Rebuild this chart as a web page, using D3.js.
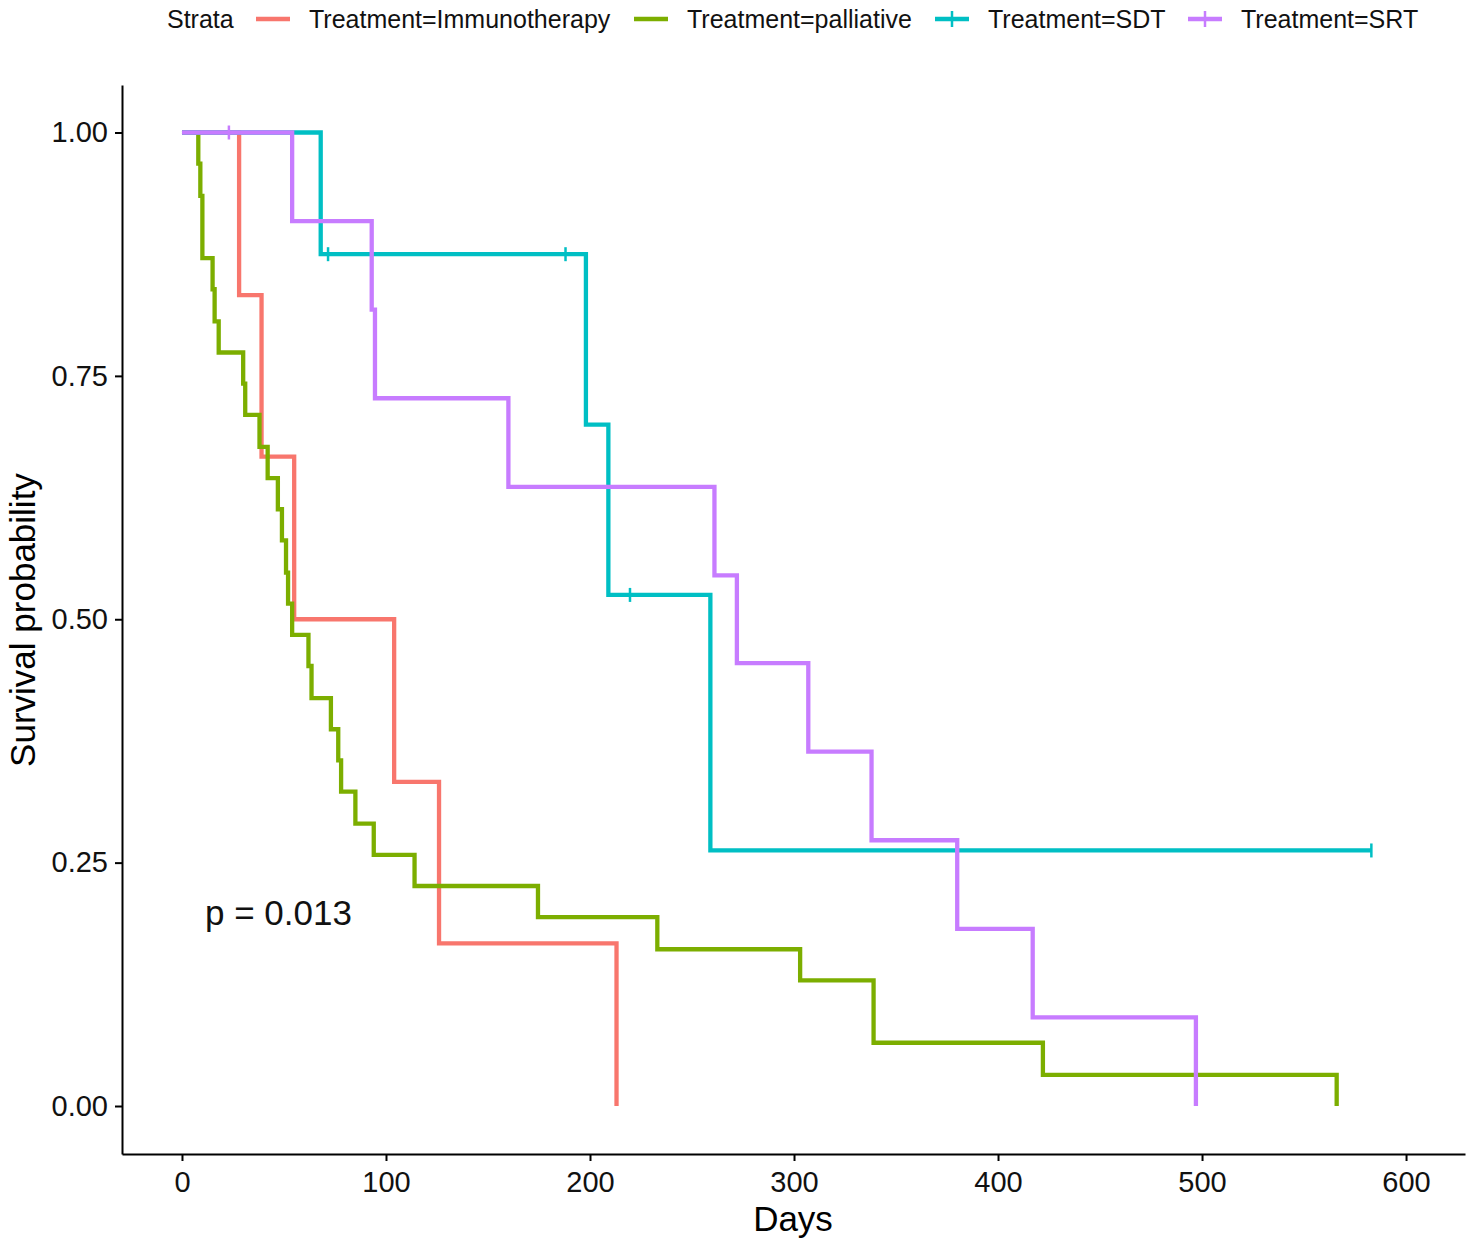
<!DOCTYPE html>
<html>
<head>
<meta charset="utf-8">
<script src="https://cdn.jsdelivr.net/npm/d3@7"></script>
<style>
  body { margin: 0; background: #fff; }
  text { font-family: "Liberation Sans", Arial, sans-serif; }
</style>
</head>
<body>
<svg width="1477" height="1247"></svg>
<script>
// step curves (days, survival)
const immunoTime = [0, 28, 39, 55, 104, 126, 213];
const immunoSurv = [1, 0.833, 0.667, 0.5, 0.333, 0.167, 0];

const palliativeTime = [0, 8, 9, 10, 15, 16, 18, 30, 31, 38, 42, 47, 49, 51, 52, 54, 62, 63.5, 73, 76.6, 78, 85, 94, 114, 174.5, 233, 303, 339, 422, 566];
const palliativeSurv = [1, 0.968, 0.935, 0.871, 0.839, 0.806, 0.774, 0.742, 0.710, 0.677, 0.645, 0.613, 0.581, 0.548, 0.516, 0.484, 0.452, 0.419, 0.387, 0.355, 0.323, 0.290, 0.258, 0.226, 0.194, 0.161, 0.129, 0.065, 0.032, 0];

const sdtTime = [0, 68, 198, 209, 259, 583];
const sdtSurv = [1, 0.875, 0.7, 0.525, 0.2625, 0.2625];
const sdtCensorTime = [71.6, 188, 219.6, 583];
const sdtCensorSurv = [0.875, 0.875, 0.525, 0.2625];

const srtTime = [0, 54, 93, 94.6, 160, 261, 272, 307, 338, 380, 417, 497];
const srtSurv = [1, 0.909, 0.818, 0.727, 0.636, 0.545, 0.455, 0.364, 0.273, 0.182, 0.091, 0];
const srtCensorTime = [23];
const srtCensorSurv = [1];

const strataNames = ["Treatment=Immunotherapy", "Treatment=palliative", "Treatment=SDT", "Treatment=SRT"];
const strataColors = ["#F8766D", "#7CAE00", "#00BFC4", "#C77CFF"];

const xTicks = [0, 100, 200, 300, 400, 500, 600];
const yTicks = [0, 0.25, 0.5, 0.75, 1];
const pText = "p = 0.013";

const series = [
  { time: immunoTime, surv: immunoSurv, cT: [], cS: [] },
  { time: palliativeTime, surv: palliativeSurv, cT: [], cS: [] },
  { time: sdtTime, surv: sdtSurv, cT: sdtCensorTime, cS: sdtCensorSurv },
  { time: srtTime, surv: srtSurv, cT: srtCensorTime, cS: srtCensorSurv }
];

const svg = d3.select("svg");

const x = d3.scaleLinear().domain([-29.4, 628.9]).range([122, 1465]);
const y = d3.scaleLinear().domain([-0.0493, 1.0488]).range([1154, 85]);

// axes
const xAxis = svg.append("g")
  .attr("transform", "translate(0,1154)")
  .call(d3.axisBottom(x).tickValues(xTicks).tickSize(7).tickSizeOuter(0).tickPadding(6));
const yAxis = svg.append("g")
  .attr("transform", "translate(122,0)")
  .call(d3.axisLeft(y).tickValues(yTicks).tickSize(7).tickSizeOuter(0).tickPadding(7)
    .tickFormat(d3.format(".2f")));

[xAxis, yAxis].forEach(function (g) {
  g.select(".domain").attr("stroke", "#000").attr("stroke-width", 2);
  g.selectAll(".tick line").attr("stroke", "#000").attr("stroke-width", 2);
  g.selectAll(".tick text").attr("fill", "#111").style("font-size", "29px")
    .style("font-family", "'Liberation Sans', Arial, sans-serif");
});
xAxis.selectAll(".tick text").attr("dy", "0.85em");

// axis titles
svg.append("text")
  .attr("x", 793).attr("y", 1231)
  .attr("text-anchor", "middle")
  .style("font-size", "35px")
  .text("Days");
svg.append("text")
  .attr("transform", "translate(35,620) rotate(-90)")
  .attr("text-anchor", "middle")
  .style("font-size", "35px")
  .text("Survival probability");

// curves
const line = d3.line()
  .x(function (d) { return x(d[0]); })
  .y(function (d) { return y(d[1]); })
  .curve(d3.curveStepAfter);

series.forEach(function (s, i) {
  const pts = s.time.map(function (t, j) { return [t, s.surv[j]]; });
  svg.append("path")
    .datum(pts)
    .attr("d", line)
    .attr("fill", "none")
    .attr("stroke", strataColors[i])
    .attr("stroke-width", 4.3);

  svg.append("g")
    .selectAll("line")
    .data(s.cT.map(function (t, j) { return [t, s.cS[j]]; }))
    .enter()
    .append("line")
    .attr("x1", function (d) { return x(d[0]); })
    .attr("x2", function (d) { return x(d[0]); })
    .attr("y1", function (d) { return y(d[1]) - 7; })
    .attr("y2", function (d) { return y(d[1]) + 7; })
    .attr("stroke", strataColors[i])
    .attr("stroke-width", 2.5);
});

// p value
svg.append("text")
  .attr("x", 205).attr("y", 925)
  .style("font-size", "35px")
  .attr("fill", "#111")
  .text(pText);

// legend
const legend = svg.append("g");
legend.append("text")
  .attr("x", 167).attr("y", 28)
  .style("font-size", "25px")
  .attr("fill", "#111")
  .text("Strata");

const keyX = [256, 634, 935, 1188];
strataNames.forEach(function (name, i) {
  const kx = keyX[i];
  legend.append("line")
    .attr("x1", kx).attr("x2", kx + 34)
    .attr("y1", 19).attr("y2", 19)
    .attr("stroke", strataColors[i])
    .attr("stroke-width", 4.3);
  if (i >= 2) {
    legend.append("line")
      .attr("x1", kx + 17).attr("x2", kx + 17)
      .attr("y1", 11).attr("y2", 27)
      .attr("stroke", strataColors[i])
      .attr("stroke-width", 2.5);
  }
  legend.append("text")
    .attr("x", kx + 53).attr("y", 28)
    .style("font-size", "25px")
    .attr("fill", "#111")
    .text(name);
});
</script>
</body>
</html>
